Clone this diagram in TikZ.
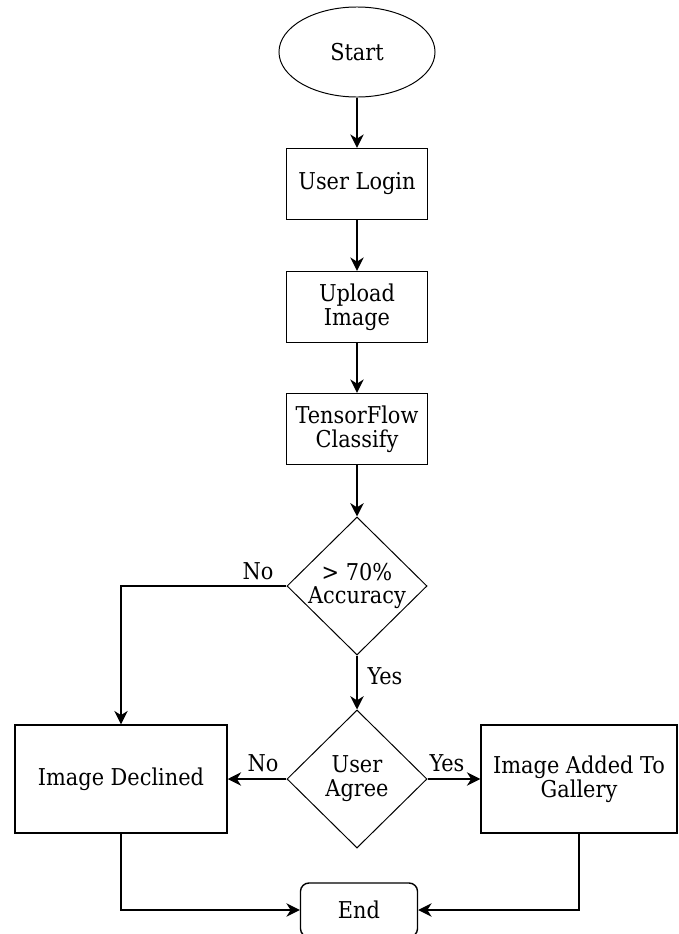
\documentclass[tikz,border=0pt]{standalone}
\usepackage{fontspec}
\setmainfont{DejaVu Serif Condensed}
\usetikzlibrary{shapes.geometric, positioning, arrows.meta}

\begin{document}
\begin{tikzpicture}[x=0.025cm, y=-0.025cm,
      every node/.style={font=\fontsize{16.5}{17}\selectfont},
      pbox/.style={rectangle, draw, line width=1pt, minimum width=3.525cm,
                   minimum height=1.775cm, align=center, inner sep=2pt},
      term/.style={ellipse, draw, line width=0.7pt, minimum width=3.9cm,
                   minimum height=2.25cm},
      cond/.style={diamond, draw, line width=0.7pt, minimum width=3.5cm,
                   minimum height=3.45cm, align=center, inner sep=-4pt},
      lbl/.style={inner sep=1pt},
      arr/.style={-{Stealth[length=9.5pt, width=9.5pt, inset=3pt]}, line width=1pt}
    ]
    \useasboundingbox (0,0) rectangle (678,934);

    \node[term]                           (start) at (357, 52)  {Start};
    \node[pbox]                           (login) at (357, 184) {User Login};
    \node[pbox]                           (upl)   at (357, 307) {Upload\\Image};
    \node[pbox]                           (clf)   at (357, 429) {TensorFlow\\Classify};
    \node[cond]                           (acc)   at (357, 586) {> 70\%\\Accuracy};
    \node[cond]                           (agree) at (357, 779) {User\\Agree};
    \node[pbox, minimum width=5.3cm, minimum height=2.7cm]
                                          (decl)  at (121, 779) {Image Declined};
    \node[pbox, minimum width=4.9cm, minimum height=2.7cm]
                                          (gal)   at (579, 779) {Image Added To\\Gallery};
    \node[pbox, rounded corners=6pt, minimum width=2.925cm, minimum height=1.35cm]
                                          (fin)   at (359, 910) {End};

    \draw[arr] (start) -- (login);
    \draw[arr] (login) -- (upl);
    \draw[arr] (upl)   -- (clf);
    \draw[arr] (clf)   -- (acc);
    \draw[arr] (acc.west) -| (decl.north);
    \draw[arr] (acc.south) -- (agree.north);
    \draw[arr] (agree.west) -- (decl.east);
    \draw[arr] (agree.east) -- (gal.west);
    \draw[arr] (decl.south) |- (fin.west);
    \draw[arr] (gal.south)  |- (fin.east);

    \node[lbl] (accno)  at (258, 571) {No};
    \node[lbl] (accyes) at (385, 676) {Yes};
    \node[lbl] (agno)   at (263, 763) {No};
    \node[lbl] (agyes)  at (447, 763) {Yes};
\end{tikzpicture}
\end{document}
